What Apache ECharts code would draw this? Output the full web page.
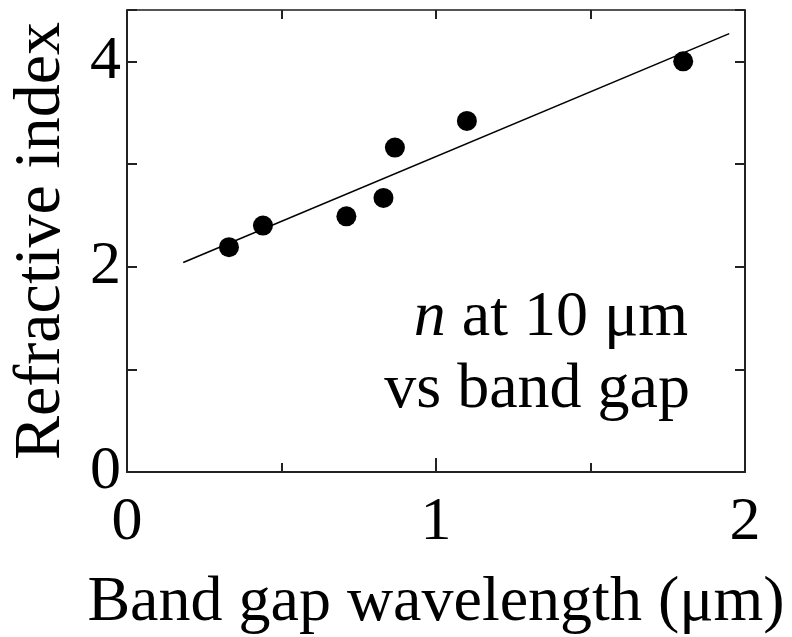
<!DOCTYPE html>
<html>
<head>
<meta charset="utf-8">
<script src="https://cdn.jsdelivr.net/npm/echarts@6/dist/echarts.min.js"></script>
<style>
  html, body { margin: 0; padding: 0; background: #fff; }
  #chart { width: 792px; height: 637px; }
</style>
</head>
<body>
<div id="chart"></div>
<script>
// band gap wavelength (um) vs refractive index n at 10 um
var gapWavelength = [0.33, 0.44, 0.71, 0.83, 0.867, 1.10, 1.80];
var refractiveIndex = [2.19, 2.40, 2.49, 2.67, 3.16, 3.42, 4.00];
// fitted trend line end points
var fitX = [0.182, 1.949];
var fitY = [2.04, 4.27];

var serif = '"Liberation Serif", "Times New Roman", serif';
var axisColor = '#222';

var myChart = echarts.init(document.getElementById('chart'));

var option = {
  animation: false,
  backgroundColor: '#fff',
  grid: { left: 127, right: 47, top: 10, bottom: 165, containLabel: false, outerBoundsMode: 'none' },
  xAxis: [{
    type: 'value',
    min: 0,
    max: 2,
    interval: 1,
    position: 'bottom',
    name: 'Band gap wavelength (μm)',
    nameLocation: 'middle',
    nameGap: 99,
    nameTextStyle: { fontFamily: serif, fontSize: 64, color: '#000' },
    axisLine: { onZero: false, lineStyle: { color: axisColor, width: 2 } },
    axisTick: { inside: true, length: 14, lineStyle: { color: axisColor, width: 2 } },
    minorTick: { show: true, splitNumber: 2, length: 9, lineStyle: { color: axisColor, width: 2 } },
    axisLabel: { fontFamily: serif, fontSize: 62, color: '#000', margin: 20 },
    splitLine: { show: false }
  }, {
    type: 'value',
    min: 0,
    max: 2,
    interval: 0.5,
    position: 'top',
    axisLine: { show: true, onZero: false, lineStyle: { color: '#555', width: 2 } },
    axisTick: { inside: true, length: 9, lineStyle: { color: axisColor, width: 2 } },
    axisLabel: { show: false },
    splitLine: { show: false }
  }],
  yAxis: [{
    type: 'value',
    min: 0,
    max: 4.5,
    interval: 1,
    position: 'left',
    name: 'Refractive index',
    nameLocation: 'middle',
    nameGap: 52,
    nameTextStyle: { fontFamily: serif, fontSize: 66, color: '#000' },
    axisLine: { show: true, onZero: false, lineStyle: { color: axisColor, width: 2 } },
    axisTick: { show: true, inside: true, length: 10, lineStyle: { color: axisColor, width: 2 } },
    axisLabel: {
      fontFamily: serif, fontSize: 62, color: '#000', margin: 6,
      formatter: function (v) { return (v % 2 === 0) ? String(v) : ''; }
    },
    splitLine: { show: false }
  }, {
    type: 'value',
    min: 0,
    max: 4.5,
    interval: 1,
    position: 'right',
    axisLine: { show: true, onZero: false, lineStyle: { color: axisColor, width: 2 } },
    axisTick: { show: true, inside: true, length: 10, lineStyle: { color: axisColor, width: 2 } },
    axisLabel: { show: false },
    splitLine: { show: false }
  }],
  graphic: [{
    type: 'text',
    right: 104,
    top: 286,
    style: {
      text: '{i|n} at 10 μm',
      fontFamily: serif,
      fontSize: 64,
      fill: '#000',
      rich: {
        i: { fontFamily: serif, fontSize: 64, fontStyle: 'italic' }
      }
    }
  }, {
    type: 'text',
    right: 102,
    top: 358,
    style: {
      text: 'vs band gap',
      fontFamily: serif,
      fontSize: 64,
      fill: '#000'
    }
  }],
  series: [{
    type: 'line',
    data: [[fitX[0], fitY[0]], [fitX[1], fitY[1]]],
    symbol: 'none',
    lineStyle: { color: '#000', width: 1.6 },
    z: 2
  }, {
    type: 'scatter',
    data: gapWavelength.map(function (x, i) { return [x, refractiveIndex[i]]; }),
    symbol: 'circle',
    symbolSize: 20,
    itemStyle: { color: '#000', opacity: 1 },
    z: 3
  }]
};

myChart.setOption(option);
</script>
</body>
</html>
